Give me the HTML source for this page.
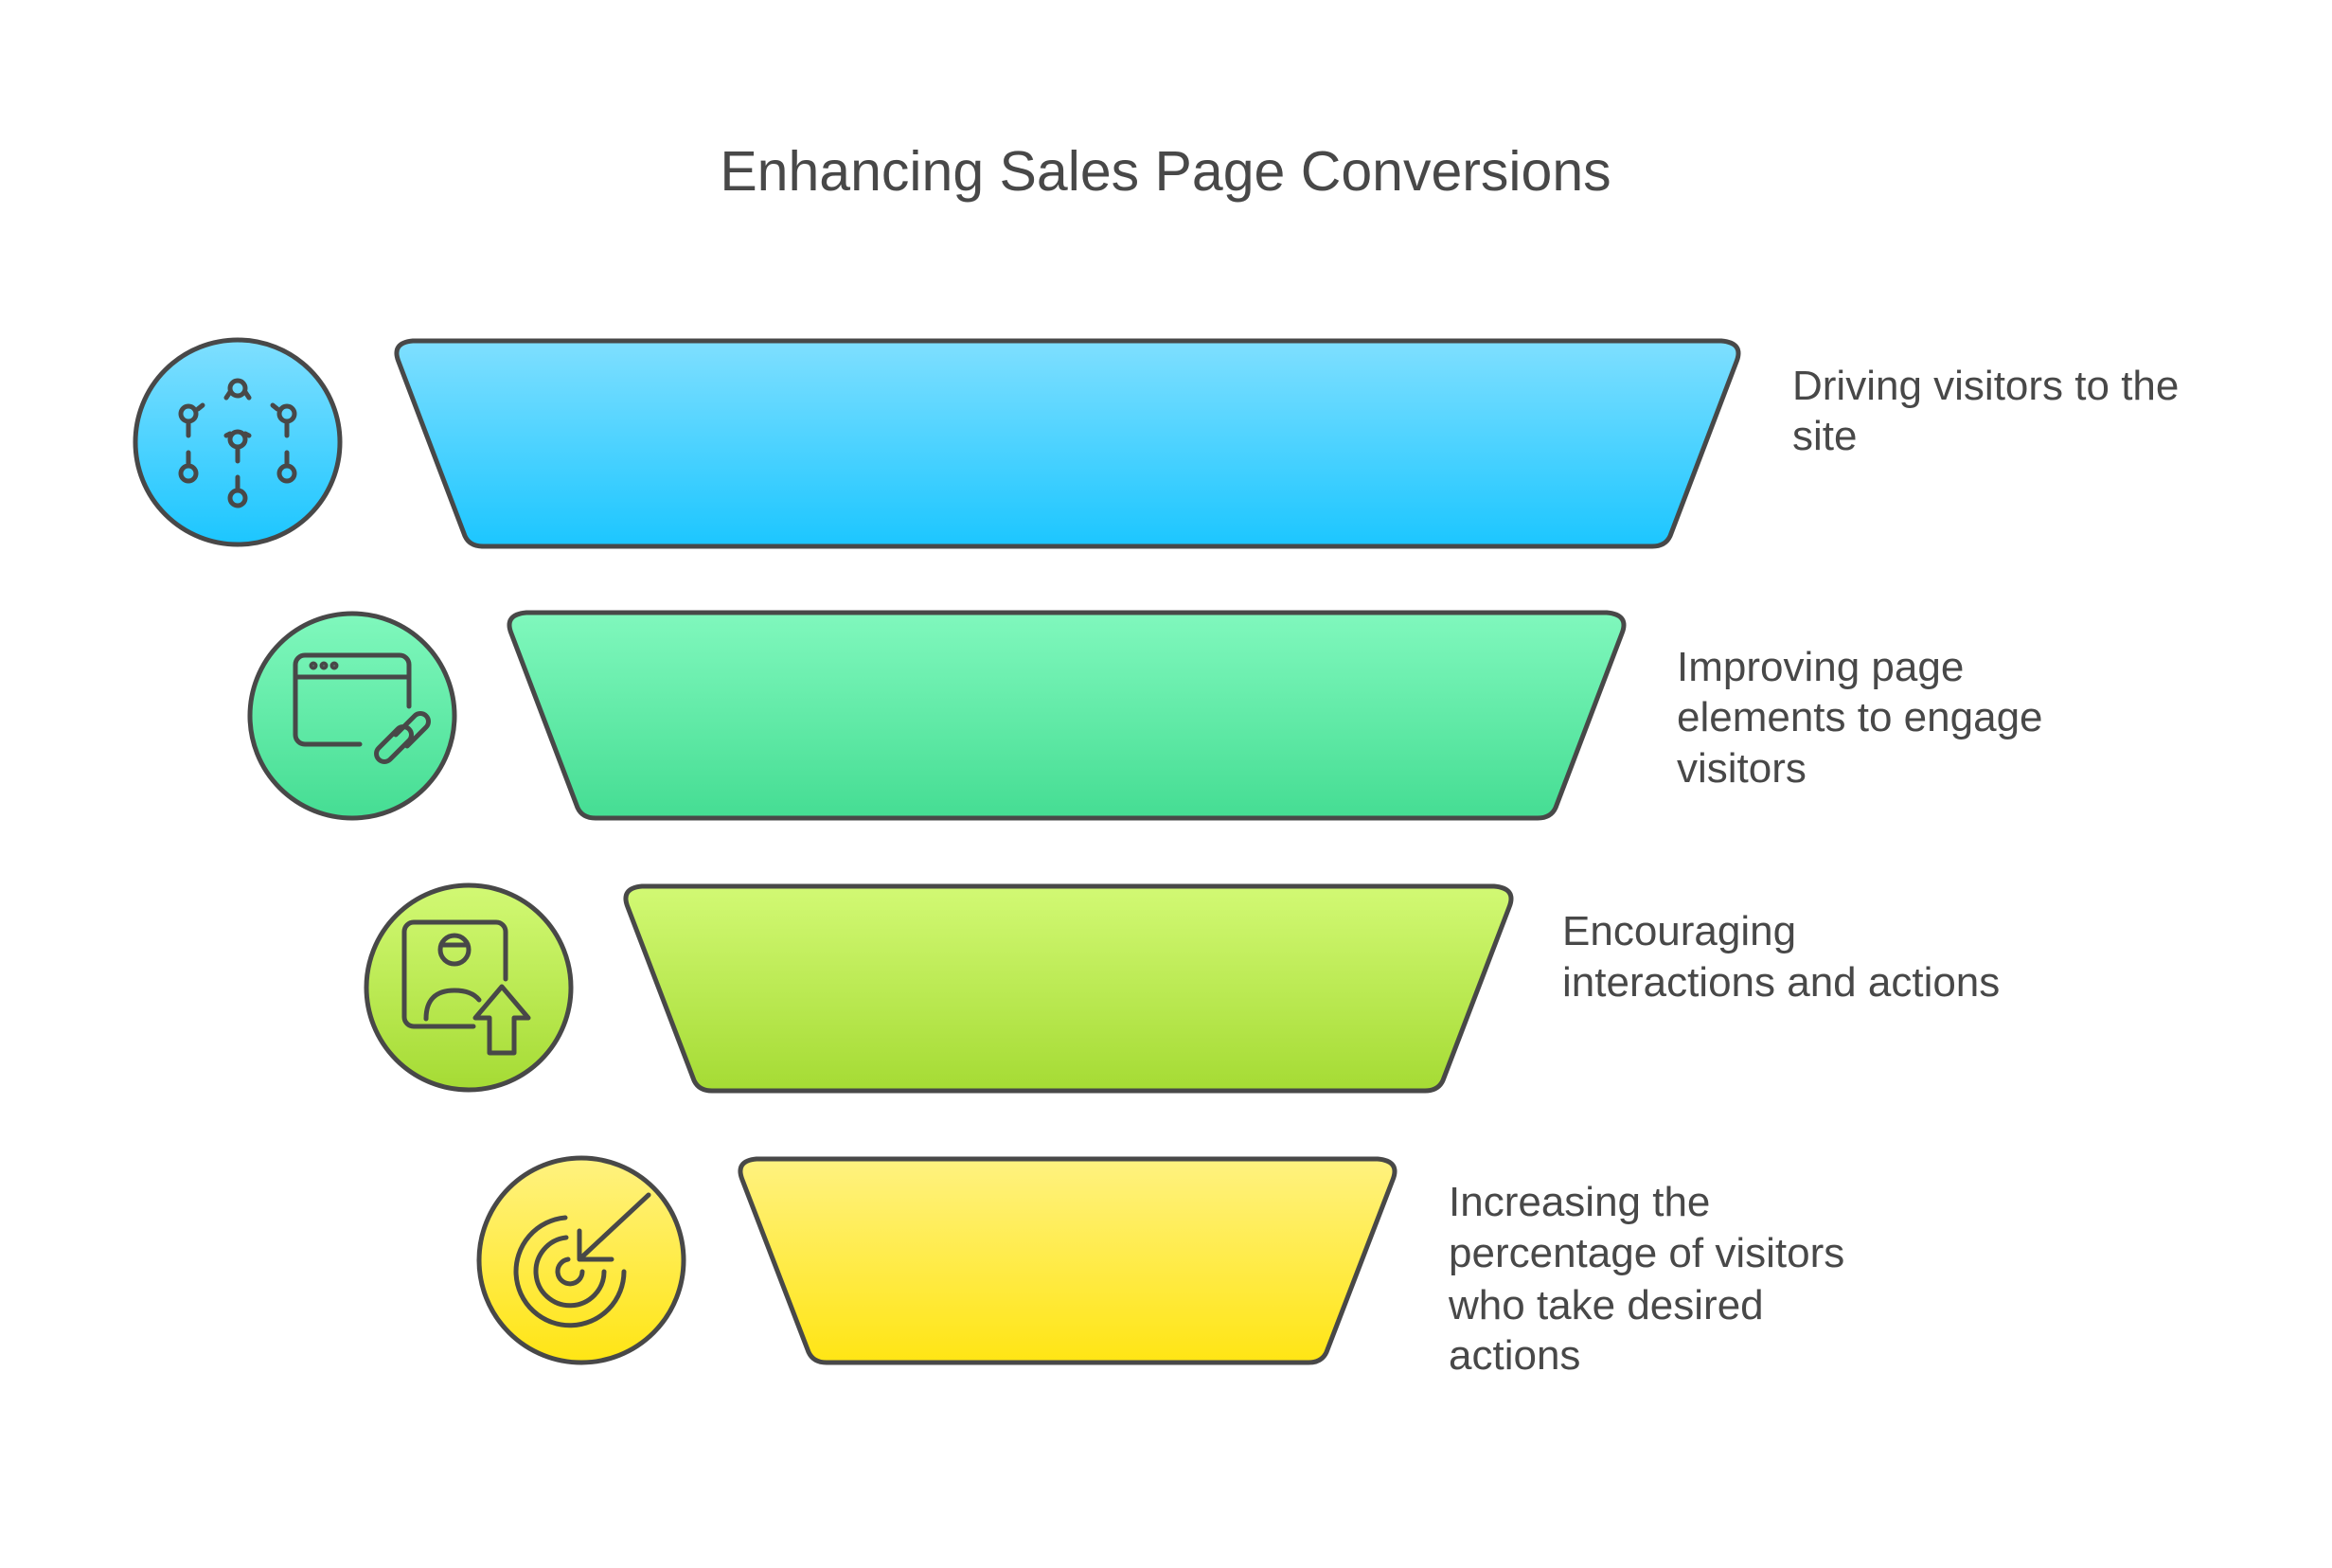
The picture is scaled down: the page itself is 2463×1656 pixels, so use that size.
<!DOCTYPE html>
<html><head><meta charset="utf-8"><style>
html,body{margin:0;padding:0;background:#fff}
svg{display:block}
text{font-family:"Liberation Sans",sans-serif;fill:#484848}
</style></head><body>
<svg width="2463" height="1656" viewBox="0 0 2463 1656" xmlns="http://www.w3.org/2000/svg">
<defs>
<linearGradient id="g1" x1="0" y1="0" x2="0" y2="1"><stop offset="0" stop-color="#7fdfff"/><stop offset="1" stop-color="#1cc6ff"/></linearGradient>
<linearGradient id="g2" x1="0" y1="0" x2="0" y2="1"><stop offset="0" stop-color="#80f8bd"/><stop offset="1" stop-color="#45dd93"/></linearGradient>
<linearGradient id="g3" x1="0" y1="0" x2="0" y2="1"><stop offset="0" stop-color="#d2f974"/><stop offset="1" stop-color="#a5db34"/></linearGradient>
<linearGradient id="g4" x1="0" y1="0" x2="0" y2="1"><stop offset="0" stop-color="#fff280"/><stop offset="1" stop-color="#ffe514"/></linearGradient>
</defs>
<text x="1231" y="201" font-size="59" text-anchor="middle">Enhancing Sales Page Conversions</text>
<g stroke="#484848" stroke-width="5" stroke-linejoin="round">
<path d="M436,360 L1818,360 Q1842,362 1834,382 L1764,566 Q1759,577 1745,577 L510,577 Q496,577 491,566 L421,382 Q413,362 436,360 Z" fill="url(#g1)"/>
<path d="M556,647 L1697,647 Q1721,649 1713,669 L1643,853 Q1638,864 1624,864 L629,864 Q615,864 610,853 L540,669 Q532,649 556,647 Z" fill="url(#g2)"/>
<path d="M678,936 L1578,936 Q1602,938 1594,958 L1524,1141 Q1519,1152 1505,1152 L752,1152 Q738,1152 733,1141 L663,958 Q655,938 678,936 Z" fill="url(#g3)"/>
<path d="M799,1224 L1455,1224 Q1479,1226 1471,1246 L1401,1428 Q1396,1439 1382,1439 L873,1439 Q859,1439 854,1428 L784,1246 Q776,1226 799,1224 Z" fill="url(#g4)"/>
<circle cx="251" cy="467" r="108" fill="url(#g1)"/>
<circle cx="372" cy="756" r="108" fill="url(#g2)"/>
<circle cx="495" cy="1043" r="108" fill="url(#g3)"/>
<circle cx="614" cy="1331" r="108" fill="url(#g4)"/>
</g>
<g stroke="#484848" stroke-width="5" fill="none" stroke-linecap="round" stroke-linejoin="round">
<circle cx="251" cy="410" r="8"/><circle cx="199" cy="437" r="8"/><circle cx="303" cy="437" r="8"/><circle cx="251" cy="464" r="8"/>
<circle cx="199" cy="500" r="8"/><circle cx="303" cy="500" r="8"/><circle cx="251" cy="526" r="8"/>
<path d="M199,445V460M303,445V460M251,472V487M199,478V492M303,478V492M251,504V518M239,420L243,414M263,420L259,414M209,432L214,428M293,432L288,428M239,460L243,458M263,460L259,458"/>
<path d="M380,786H322a10,10 0 0 1 -10,-10V702a10,10 0 0 1 10,-10h100a10,10 0 0 1 10,10v44"/>
<path d="M312,715H432"/><circle cx="331" cy="703" r="2"/><circle cx="342" cy="703" r="2"/><circle cx="353" cy="703" r="2"/>
<path d="M400,790l20,-20a8,8 0 0 1 12,12l-20,20a8,8 0 0 1 -12,-12zM418,776l20,-20a8,8 0 0 1 12,12l-20,20"/>
<path d="M500,1084H437a10,10 0 0 1 -10,-10V984a10,10 0 0 1 10,-10h87a10,10 0 0 1 10,10v50"/>
<circle cx="480" cy="1003" r="15"/><path d="M466,998H494"/>
<path d="M450,1076q0,-30 30,-30q18,0 26,10"/>
<path d="M517,1112V1075h-15l28,-33 28,33h-15v37z"/>
<path d="M597,1286A57,57 0 1 0 659,1343M598,1307A36,36 0 1 0 638,1343M600,1330A13,13 0 1 0 615,1343"/>
<path d="M612,1330L685,1262M612,1300V1330h34"/>
</g>
<g font-size="44">
<text x="1893" y="422">Driving visitors to the</text>
<text x="1893" y="475">site</text>
<text x="1771" y="719">Improving page</text>
<text x="1771" y="772">elements to engage</text>
<text x="1771" y="826">visitors</text>
<text x="1650" y="998">Encouraging</text>
<text x="1650" y="1052">interactions and actions</text>
<text x="1530" y="1284">Increasing the</text>
<text x="1530" y="1338">percentage of visitors</text>
<text x="1530" y="1393">who take desired</text>
<text x="1530" y="1446">actions</text>
</g>
</svg>
</body></html>
